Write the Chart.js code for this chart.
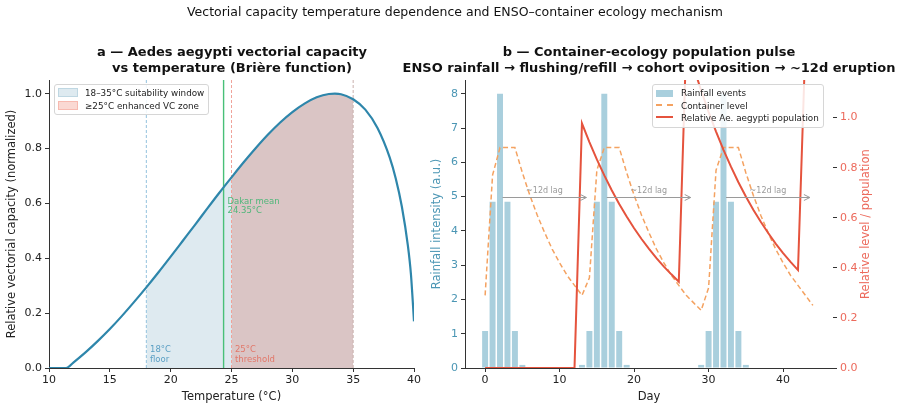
<!DOCTYPE html>
<html>
<head>
<meta charset="utf-8">
<script src="https://cdn.jsdelivr.net/npm/chart.js@4.4.1/dist/chart.umd.min.js"></script>
<style>
  body { margin: 0; background: #fff; font-family: "DejaVu Sans", sans-serif; }
  #page { position: relative; width: 911px; height: 410px; overflow: hidden; }
  canvas { position: absolute; top: 0; }
  .title { position: absolute; white-space: nowrap; transform: translateX(-50%); color: #111; text-align: center; }
  .sup { top: 4px; left: 455px; font-size: 12.5px; line-height: 15px; }
  .panel { top: 44px; font-size: 13px; line-height: 16px; font-weight: bold; }
  .legend { position: absolute; background: rgba(255,255,255,0.85); border: 1px solid #d6d6d6; border-radius: 3px;
            font-size: 8.8px; color: #222; padding: 2px 4px 2px 3px; }
  .legend div { height: 12.5px; line-height: 12.5px; white-space: nowrap; }
  .sw { display: inline-block; width: 18px; height: 7px; margin-right: 7px; vertical-align: -1px; }
  .dash { display: inline-block; width: 17px; margin-right: 8px; vertical-align: 3px; }
</style>
</head>
<body>
<div id="page">
  <canvas id="vcChart" width="430" height="410" style="left:0"></canvas>
  <canvas id="pulseChart" width="486" height="410" style="left:425px"></canvas>

  <div class="title sup">Vectorial capacity temperature dependence and ENSO–container ecology mechanism</div>
  <div class="title panel" style="left:232px">a — Aedes aegypti vectorial capacity<br>vs temperature (Brière function)</div>
  <div class="title panel" style="left:649px">b — Container-ecology population pulse<br>ENSO rainfall → flushing/refill → cohort oviposition → ~12d eruption</div>

  <div class="legend" style="left:54px; top:84px;">
    <div><span class="sw" style="background:rgba(123,171,195,0.25); border:1px solid rgba(123,171,195,0.3)"></span>18–35°C suitability window</div>
    <div><span class="sw" style="background:rgba(240,130,110,0.3); border:1px solid rgba(240,130,110,0.35)"></span>≥25°C enhanced VC zone</div>
  </div>
  <div class="legend" style="left:652px; top:84px;">
    <div><span class="sw" style="background:#a9cfdd; width:17px; margin-right:8px"></span>Rainfall events</div>
    <div><span class="dash" style="border-top:2px dashed #f4a261"></span>Container level</div>
    <div><span class="dash" style="border-top:2px solid #e5533d"></span>Relative Ae. aegypti population</div>
  </div>
</div>

<script>
// ---- panel a: normalized Brière curve ----
const tempC = [10, 11, 11.4, 12, 13, 14, 15, 16, 17, 18, 19, 20, 21, 22, 23, 24, 25, 26, 27, 28,
               29, 30, 31, 32, 33, 33.5, 34, 35, 36, 37, 38, 38.5, 39, 39.5, 39.75, 40];
const vcRel = [0, 0, 0, 0.020, 0.057, 0.098, 0.142, 0.190, 0.241, 0.294, 0.349, 0.406, 0.464, 0.522, 0.581, 0.639, 0.695, 0.750, 0.802, 0.851,
               0.895, 0.933, 0.964, 0.987, 0.999, 1.0, 0.998, 0.980, 0.942, 0.875, 0.768, 0.691, 0.589, 0.445, 0.341, 0.170];
const tempTicks = [10, 15, 20, 25, 30, 35, 40];
const vcTicks = [0, 0.2, 0.4, 0.6, 0.8, 1.0];
const windowC = [18, 35];
const thresholdC = 25;
const dakarMeanC = 24.35;

// ---- panel b: rainfall pulses, container level, population ----
const days = [0, 1, 2, 3, 4, 5, 6, 7, 8, 9, 10, 11, 12, 13, 14, 15, 16, 17, 18, 19, 20, 21, 22,
              23, 24, 25, 26, 27, 28, 29, 30, 31, 32, 33, 34, 35, 36, 37, 38, 39, 40, 41, 42, 43, 44];
const rainfall = [1.08, 4.85, 8, 4.85, 1.08, 0.09, 0, 0, 0, 0, 0, 0, 0, 0.09, 1.08, 4.85, 8, 4.85, 1.08, 0.09, 0, 0, 0,
                  0, 0, 0, 0, 0, 0, 0.09, 1.08, 4.85, 8, 4.85, 1.08, 0.09, 0, 0, 0, 0, 0, 0, 0, 0, 0];
const containerLevel = [0.29, 0.77, 0.88, 0.88, 0.88, 0.78, 0.69, 0.61, 0.54, 0.475, 0.42, 0.37, 0.33, 0.29, 0.36, 0.79, 0.88, 0.88, 0.88, 0.78, 0.69, 0.61, 0.54,
                        0.475, 0.42, 0.37, 0.33, 0.29, 0.26, 0.23, 0.32, 0.79, 0.88, 0.88, 0.88, 0.78, 0.69, 0.61, 0.54, 0.475, 0.42, 0.37, 0.33, 0.29, 0.25];
const popDays = [0, 1, 2, 3, 4, 5, 6, 7, 8, 9, 10, 11, 12, 13, 14, 15, 16, 17, 18, 19, 20, 21,
                 22, 23, 24, 25, 26, 27, 28, 29, 30, 31, 32, 33, 34, 35, 36, 37, 38, 39, 40, 41, 42, 43];
const population = [0, 0, 0, 0, 0, 0, 0, 0, 0, 0, 0, 0, 0, 0.977, 0.902, 0.833, 0.769, 0.710, 0.655, 0.605, 0.558, 0.515,
                    0.476, 0.439, 0.405, 0.374, 0.345, 1.30, 1.20, 1.108, 1.023, 0.944, 0.871, 0.804, 0.742, 0.685, 0.632, 0.584, 0.539, 0.497, 0.459, 0.424, 0.391, 1.30];
const dayTicks = [0, 10, 20, 30, 40];
const rainTicks = [0, 1, 2, 3, 4, 5, 6, 7, 8];
const levelTicks = [0, 0.2, 0.4, 0.6, 0.8, 1.0];
const lagStarts = [2, 16, 32];
const lagLength = 12;
const lagY = 5;

Chart.defaults.font.family = '"DejaVu Sans", sans-serif';
Chart.defaults.color = '#222';

const pts = (xs, ys) => xs.map((x, i) => ({ x: x, y: ys[i] }));
const setTicks = list => scale => { scale.ticks = list.map(v => ({ value: v })); };
const vline = (x, top) => [{ x: x, y: 0 }, { x: x, y: top }];
const axisLine = { color: '#333', width: 1 };
const tickGrid = { drawOnChartArea: false, tickLength: 4, color: '#333', offset: false };

const curve = pts(tempC, vcRel);
const between = (lo, hi) => curve.filter(p => p.x >= lo && p.x <= hi);
const VC_TOP = 1.05;

const vcNotes = {
  id: 'vcNotes',
  afterDatasetsDraw(chart) {
    const { ctx, scales: { x, y } } = chart;
    const notes = [
      { x: windowC[0] + 0.3, y: 0.015, color: '#5a9fc4', lines: ['18°C', 'floor'] },
      { x: thresholdC + 0.28, y: 0.015, color: '#e2786a', lines: ['25°C', 'threshold'] },
      { x: dakarMeanC + 0.32, y: 0.556, color: '#4fb77a', lines: ['Dakar mean', dakarMeanC + '°C'] }
    ];
    ctx.save();
    ctx.font = '8.5px "DejaVu Sans"';
    ctx.textBaseline = 'bottom';
    notes.forEach(n => {
      ctx.fillStyle = n.color;
      n.lines.forEach((line, i) => {
        ctx.fillText(line, x.getPixelForValue(n.x), y.getPixelForValue(n.y) - (n.lines.length - 1 - i) * 9.5);
      });
    });
    ctx.restore();
  }
};

new Chart(document.getElementById('vcChart'), {
  type: 'line',
  data: {
    datasets: [
      { data: curve, borderColor: '#2e86ab', borderWidth: 2.2, cubicInterpolationMode: 'monotone', order: 1 },
      { data: vline(dakarMeanC, VC_TOP), borderColor: '#48c078', borderWidth: 1.4, order: 2 },
      { data: vline(windowC[0], VC_TOP), borderColor: '#93c2de', borderWidth: 1, borderDash: [3, 2], order: 2 },
      { data: vline(thresholdC, VC_TOP), borderColor: '#f0a39a', borderWidth: 1, borderDash: [3, 2], order: 2 },
      { data: vline(windowC[1], VC_TOP), borderColor: '#c9b0ae', borderWidth: 1, borderDash: [3, 2], order: 2 },
      { data: between(thresholdC, windowC[1]), fill: 'origin', backgroundColor: 'rgba(210,100,85,0.28)',
        borderWidth: 0, cubicInterpolationMode: 'monotone', order: 3 },
      { data: between(windowC[0], windowC[1]), fill: 'origin', backgroundColor: 'rgba(123,171,195,0.25)',
        borderWidth: 0, cubicInterpolationMode: 'monotone', order: 4 }
    ]
  },
  options: {
    responsive: false,
    animation: false,
    layout: { padding: { top: 80, right: 16, bottom: 0, left: 0 } },
    elements: { point: { radius: 0 } },
    plugins: { legend: { display: false }, tooltip: { enabled: false } },
    scales: {
      x: {
        type: 'linear', min: 10, max: 40,
        afterBuildTicks: setTicks(tempTicks),
        afterFit: s => { s.height = 42; },
        grid: tickGrid, border: axisLine,
        ticks: { font: { size: 11 }, padding: 2, maxRotation: 0 },
        title: { display: true, text: 'Temperature (°C)', font: { size: 11.5 }, padding: { top: 0, bottom: 6 } }
      },
      y: {
        min: 0, max: VC_TOP,
        afterBuildTicks: setTicks(vcTicks),
        afterFit: s => { s.width = 49; },
        grid: tickGrid, border: axisLine,
        ticks: { font: { size: 11 }, padding: 3, callback: v => v.toFixed(1) },
        title: { display: true, text: 'Relative vectorial capacity (normalized)', font: { size: 11.5 }, padding: { top: 5, bottom: 0 } }
      }
    }
  },
  plugins: [vcNotes]
});

// ~12d lag arrows and the right-hand axis title
const pulseNotes = {
  id: 'pulseNotes',
  afterDatasetsDraw(chart) {
    const { ctx, scales: { x, y } } = chart;
    ctx.save();
    ctx.strokeStyle = '#9a9a9a';
    ctx.fillStyle = '#9a9a9a';
    ctx.lineWidth = 1;
    ctx.font = '8px "DejaVu Sans"';
    ctx.textAlign = 'center';
    ctx.textBaseline = 'bottom';
    lagStarts.forEach(d0 => {
      const x0 = x.getPixelForValue(d0) + 2.5;
      const x1 = x.getPixelForValue(d0 + lagLength) - 3;
      const yy = Math.round(y.getPixelForValue(lagY)) + 0.5;
      ctx.beginPath();
      ctx.moveTo(x0, yy);
      ctx.lineTo(x1, yy);
      ctx.moveTo(x1 - 6, yy - 3);
      ctx.lineTo(x1, yy);
      ctx.lineTo(x1 - 6, yy + 3);
      ctx.stroke();
      ctx.fillText('~' + lagLength + 'd lag', (x0 + x1) / 2, yy - 3);
    });
    ctx.restore();
  },
  afterDraw(chart) {
    const { ctx, scales: { y1 } } = chart;
    ctx.save();
    ctx.translate(y1.right - 7, (y1.top + y1.bottom) / 2);
    ctx.rotate(-Math.PI / 2);
    ctx.font = '11.5px "DejaVu Sans"';
    ctx.fillStyle = '#ec6a5c';
    ctx.textAlign = 'center';
    ctx.textBaseline = 'middle';
    ctx.fillText('Relative level / population', 0, 0);
    ctx.restore();
  }
};

new Chart(document.getElementById('pulseChart'), {
  type: 'bar',
  data: {
    datasets: [
      { type: 'line', label: 'Relative Ae. aegypti population', data: pts(popDays, population), yAxisID: 'y1',
        borderColor: '#e5533d', borderWidth: 2, pointRadius: 0, order: 1 },
      { type: 'line', label: 'Container level', data: pts(days, containerLevel), yAxisID: 'y1',
        borderColor: '#f4a261', borderWidth: 1.5, borderDash: [5, 3], pointRadius: 0, order: 2 },
      { type: 'bar', label: 'Rainfall events', data: pts(days, rainfall), yAxisID: 'y',
        backgroundColor: '#a9cfdd', barPercentage: 0.8, categoryPercentage: 1, order: 3 }
    ]
  },
  options: {
    responsive: false,
    animation: false,
    layout: { padding: { top: 80, right: 38, bottom: 0, left: 0 } },
    plugins: { legend: { display: false }, tooltip: { enabled: false } },
    scales: {
      x: {
        type: 'linear', min: -2.7, max: 46.7, offset: false,
        afterBuildTicks: setTicks(dayTicks),
        afterFit: s => { s.height = 42; },
        grid: tickGrid, border: axisLine,
        ticks: { font: { size: 11 }, padding: 2, maxRotation: 0 },
        title: { display: true, text: 'Day', font: { size: 11.5 }, padding: { top: 0, bottom: 6 } }
      },
      y: {
        position: 'left', min: 0, max: 8.4,
        afterBuildTicks: setTicks(rainTicks),
        afterFit: s => { s.width = 40; },
        grid: tickGrid, border: axisLine,
        ticks: { font: { size: 11 }, padding: 3, color: '#4b96b4' },
        title: { display: true, text: 'Rainfall intensity (a.u.)', color: '#4b96b4', font: { size: 11.5 }, padding: { top: 5, bottom: 0 } }
      },
      y1: {
        position: 'right', min: 0, max: 1.15,
        afterBuildTicks: setTicks(levelTicks),
        afterFit: s => { s.width = 40; },
        grid: tickGrid, border: { display: false },
        ticks: { font: { size: 11 }, padding: 3, color: '#ec6a5c', callback: v => v.toFixed(1) }
      }
    }
  },
  plugins: [pulseNotes]
});
</script>
</body>
</html>
